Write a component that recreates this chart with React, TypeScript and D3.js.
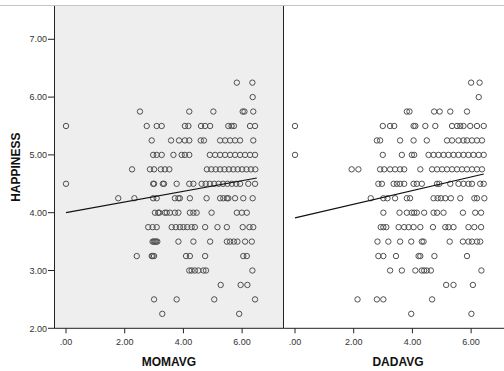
import React from "react";
import * as d3 from "d3";

// happiness rows (0.25 steps) with the x values
const momRows: [number, number[]][] = [
  [6.25, [5.82, 6.35]],
  [6.0, [6.36]],
  [5.75, [2.52, 4.2, 5.02, 6.02, 6.08, 6.38]],
  [5.5, [0, 2.75, 3.09, 3.26, 4.05, 4.17, 4.6, 4.74, 4.91, 5.53, 5.64, 5.72, 6.27, 6.44]],
  [5.25, [2.92, 3.58, 3.85, 4.05, 4.2, 4.59, 4.7, 5.25, 5.42, 5.59, 5.76, 5.93, 6.38]],
  [5.0, [2.97, 3.09, 3.26, 3.66, 3.94, 4.05, 4.2, 4.9, 5.08, 5.25, 5.42, 5.59, 5.76, 5.93, 6.1, 6.27, 6.44]],
  [4.75, [2.25, 2.86, 3.0, 3.23, 3.37, 3.52, 4.8, 4.95, 5.1, 5.25, 5.4, 5.55, 5.7, 5.85, 6.0, 6.15, 6.3, 6.45]],
  [4.5, [0, 2.97, 3.0, 3.3, 3.34, 3.77, 4.2, 4.34, 4.62, 4.76, 4.9, 5.05, 5.2, 5.35, 5.5, 5.65, 5.8, 5.93, 6.21, 6.44]],
  [4.25, [1.78, 2.33, 2.97, 3.09, 3.71, 3.83, 3.88, 4.22, 4.79, 5.25, 5.36, 5.48, 5.53, 5.76, 6.04, 6.36]],
  [4.0, [3.03, 3.14, 3.18, 3.37, 3.43, 3.54, 3.71, 3.83, 4.22, 4.34, 4.45, 4.96, 5.82, 5.99, 6.16]],
  [3.75, [2.8, 2.95, 3.09, 3.6, 3.74, 3.88, 4.0, 4.13, 4.28, 4.39, 4.74, 5.16, 5.48, 6.02, 6.25, 6.38]],
  [3.5, [2.95, 2.99, 3.03, 3.07, 3.11, 3.83, 4.34, 4.91, 5.48, 5.59, 5.72, 5.84, 6.1, 6.33]],
  [3.25, [2.41, 2.92, 2.95, 3.0, 4.09, 4.22, 4.74, 6.04, 6.16]],
  [3.0, [4.2, 4.28, 4.39, 4.51, 4.68, 4.77, 6.35]],
  [2.75, [5.27, 5.95, 6.18]],
  [2.5, [3.0, 3.77, 5.05, 6.44]],
  [2.25, [3.28, 5.9]],
];

const dadRows: [number, number[]][] = [
  [6.25, [6.0, 6.29]],
  [6.0, [6.26]],
  [5.75, [3.81, 3.9, 4.74, 4.93, 5.29, 5.86]],
  [5.5, [0, 2.99, 3.24, 3.38, 4.04, 4.1, 4.44, 4.78, 5.35, 5.52, 5.63, 5.74, 5.97, 6.2, 6.43]],
  [5.25, [2.79, 2.9, 3.58, 4.04, 4.49, 5.18, 5.35, 5.57, 5.74, 5.86, 6.03, 6.2, 6.37]],
  [5.0, [0, 2.99, 3.64, 3.98, 4.06, 4.55, 4.72, 4.89, 5.06, 5.23, 5.4, 5.57, 5.74, 5.91, 6.08, 6.26, 6.43]],
  [4.75, [1.93, 2.16, 2.9, 3.04, 3.24, 3.41, 3.58, 3.72, 4.27, 4.67, 4.84, 5.01, 5.18, 5.35, 5.52, 5.69, 5.86, 6.03, 6.2, 6.37]],
  [4.5, [2.84, 2.96, 3.36, 3.47, 3.58, 3.72, 4.04, 4.15, 4.32, 4.84, 4.92, 5.29, 5.57, 5.74, 5.91, 6.03, 6.31, 6.43]],
  [4.25, [2.58, 3.01, 3.15, 3.41, 3.81, 3.92, 4.72, 4.86, 4.97, 5.12, 5.31, 5.63, 6.11, 6.2, 6.45]],
  [4.0, [3.01, 3.56, 3.81, 3.98, 4.06, 4.15, 4.4, 4.72, 4.84, 5.06, 5.72, 6.14, 6.34]],
  [3.75, [2.92, 3.01, 3.11, 3.53, 3.72, 3.87, 4.04, 4.27, 4.7, 5.12, 5.23, 5.4, 5.91, 6.11, 6.34]],
  [3.5, [2.81, 3.18, 3.58, 3.96, 4.32, 4.38, 5.27, 5.72, 5.91, 6.03, 6.2, 6.31]],
  [3.25, [2.84, 3.01, 3.44, 4.21, 4.27, 4.75, 5.86]],
  [3.0, [3.24, 3.64, 4.1, 4.32, 4.4, 4.49, 4.63, 6.35]],
  [2.75, [5.15, 5.4, 6.06]],
  [2.5, [2.13, 2.79, 3.01, 4.67]],
  [2.25, [3.96, 6.01]],
];

// fit line ends [x0, y0, x1, y1]
const momFit = [0, 4.0, 6.5, 4.6];
const dadFit = [0, 3.91, 6.43, 4.67];

const yTicks = [2, 3, 4, 5, 6, 7];
const xTicks = [0, 2, 4, 6];

const fmt = (v: number) => d3.format(".2f")(v).replace(/^0/, "");

const W = 504;
const H = 371;
const top = 6;
const bottom = 328.3;
const panelW = 229;
const panelLefts = [54.5, 283.5];
const font = "'Liberation Sans', Arial, sans-serif";

const yScale = d3.scaleLinear().domain([2, 7.576]).range([bottom, top]);

const Panel = ({ left, rows, fit, title, bg }: any) => {
  const x = d3.scaleLinear().domain([-0.392, 7.41]).range([left, left + panelW]);
  const pts = rows.flatMap(([h, xs]: [number, number[]]) => xs.map((v) => [v, h]));
  return (
    <g>
      <rect x={left} y={top} width={panelW} height={bottom - top} fill={bg} />
      {pts.map((p: number[], i: number) => (
        <circle key={i} cx={x(p[0])} cy={yScale(p[1])} r={2.7} fill="none" stroke="#505050" strokeWidth={1} />
      ))}
      <line x1={x(fit[0])} y1={yScale(fit[1])} x2={x(fit[2])} y2={yScale(fit[3])} stroke="#111" strokeWidth={1.2} />
      {xTicks.map((t) => (
        <g key={t}>
          <line x1={x(t)} x2={x(t)} y1={bottom} y2={bottom + 5} stroke="#222" />
          <text x={x(t)} y={345} textAnchor="middle" fontSize={9} fill="#333" fontFamily={font}>
            {fmt(t)}
          </text>
        </g>
      ))}
      <line x1={left} x2={left + panelW} y1={bottom} y2={bottom} stroke="#222" />
      <text x={left + panelW / 2} y={365.5} textAnchor="middle" fontSize={12} fontWeight="bold" fill="#111" fontFamily={font}>
        {title}
      </text>
    </g>
  );
};

export default function App() {
  return (
    <svg width={W} height={H} style={{ position: "absolute", left: 0, top: 0, background: "#fff" }}>
      <Panel left={panelLefts[0]} rows={momRows} fit={momFit} title="MOMAVG" bg="#eeeeee" />
      <Panel left={panelLefts[1]} rows={dadRows} fit={dadFit} title="DADAVG" bg="#ffffff" />
      <line x1={0} x2={W} y1={5.5} y2={5.5} stroke="#c4c4c4" />
      <line x1={panelLefts[1]} x2={panelLefts[1]} y1={top} y2={bottom} stroke="#222" />
      <line x1={panelLefts[0]} x2={panelLefts[0]} y1={top} y2={bottom} stroke="#222" />
      {yTicks.map((t) => (
        <g key={t}>
          <line x1={48} x2={panelLefts[0]} y1={yScale(t)} y2={yScale(t)} stroke="#222" />
          <text x={47} y={yScale(t) + 3.2} textAnchor="end" fontSize={9} fill="#333" fontFamily={font}>
            {fmt(t)}
          </text>
        </g>
      ))}
      <text
        transform={`translate(20, ${(top + bottom) / 2}) rotate(-90)`}
        textAnchor="middle"
        fontSize={12}
        fontWeight="bold"
        fill="#111"
        fontFamily={font}
      >
        HAPPINESS
      </text>
    </svg>
  );
}
